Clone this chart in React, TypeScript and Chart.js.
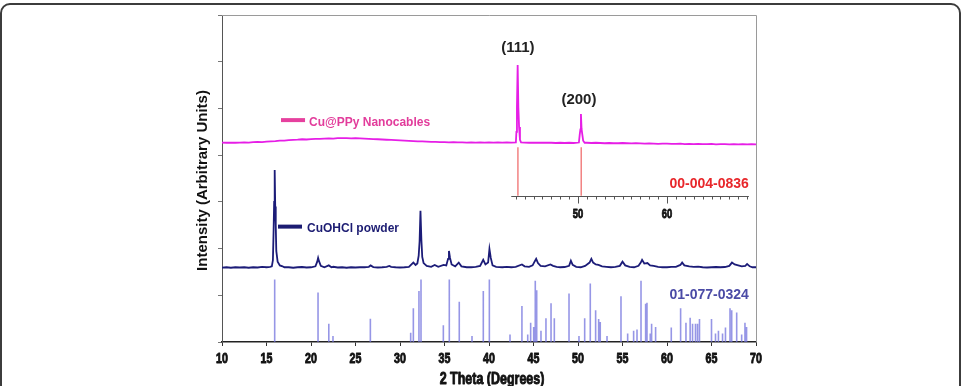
import React, { useEffect, useRef } from "react";
import { Chart, registerables } from "chart.js";
Chart.register(...registerables);

// ---------- DATA ----------
const cuPPyTheta = [
  10, 10.5, 11, 11.5, 12, 12.5, 13, 13.5, 14, 14.5, 15, 15.5, 16, 16.5, 17, 17.5, 18, 18.5, 19, 19.5,
  20, 20.5, 21, 21.5, 22, 22.5, 23, 23.5, 24, 24.5, 25, 25.5, 26, 26.5, 27, 27.5, 28, 28.5, 29, 29.5,
  30, 30.5, 31, 31.5, 32, 32.5, 33, 33.5, 34, 34.5, 35, 35.5, 36, 36.5, 37, 37.5, 38, 38.5, 39, 39.5,
  40, 40.5, 41, 41.5, 42, 42.5, 43.02, 43.08, 43.14, 43.22, 43.3, 43.38, 43.48, 43.6, 44, 44.5, 45, 45.5,
  46, 46.5, 47, 47.5, 48, 48.5, 49, 49.5, 50.1, 50.2, 50.27, 50.33, 50.4, 50.47, 50.58, 50.75, 51, 51.5,
  52, 52.5, 53, 53.5, 54, 54.5, 55, 55.5, 56, 56.5, 57, 57.5, 58, 58.5, 59, 59.5, 60, 60.5, 61, 61.5,
  62, 62.5, 63, 63.5, 64, 64.5, 65, 65.5, 66, 66.5, 67, 67.5, 68, 68.5, 69, 69.5, 70,
];
const cuPPyIntensity = [
  42.7, 42.65, 42.7, 42.65, 42.7, 42.75, 42.7, 42.8, 42.85, 42.8, 42.9, 42.95, 43.0, 43.1, 43.1, 43.2, 43.25, 43.3, 43.4, 43.35,
  43.45, 43.5, 43.5, 43.55, 43.6, 43.55, 43.65, 43.65, 43.65, 43.6, 43.65, 43.6, 43.55, 43.5, 43.45, 43.4, 43.35, 43.3, 43.25, 43.2,
  43.15, 43.1, 43.05, 43.0, 42.95, 42.95, 42.9, 42.85, 42.85, 42.8, 42.8, 42.75, 42.8, 42.75, 42.75, 42.7, 42.75, 42.7, 42.75, 42.7,
  42.75, 42.7, 42.75, 42.7, 42.75, 42.7, 42.75, 45.0, 50.2, 59.3, 50.2, 46.0, 43.3, 42.75, 42.7, 42.65, 42.7, 42.65,
  42.65, 42.7, 42.65, 42.6, 42.65, 42.6, 42.65, 42.6, 42.7, 44.5, 45.5, 48.8, 45.6, 44.6, 43.1, 42.65, 42.65, 42.6,
  42.65, 42.6, 42.55, 42.6, 42.55, 42.55, 42.6, 42.55, 42.5, 42.55, 42.5, 42.45, 42.5, 42.45, 42.4, 42.45, 42.45, 42.4, 42.4, 42.45,
  42.35, 42.4, 42.35, 42.4, 42.35, 42.35, 42.4, 42.3, 42.35, 42.35, 42.3, 42.35, 42.3, 42.35, 42.3, 42.35, 42.3,
];

const cuohclTheta = [
  10, 10.5, 11, 11.5, 12, 12.5, 13, 13.5, 14, 14.5, 15, 15.4, 15.6, 15.72, 15.8, 15.86, 15.92, 15.98, 16.04, 16.1,
  16.25, 16.5, 16.8, 17, 17.5, 18, 18.5, 19, 19.5, 20, 20.5, 20.7, 20.8, 20.9, 21.1, 21.5, 22.0, 22.3, 22.5, 23,
  23.5, 24, 24.5, 25, 25.5, 26, 26.5, 26.7, 27, 27.5, 28, 28.5, 28.8, 29, 29.5, 30, 30.5, 31, 31.5, 31.75,
  31.95, 32.1, 32.2, 32.3, 32.4, 32.5, 32.65, 33, 33.5, 33.9, 34.3, 34.9, 35.2, 35.4, 35.5, 35.62, 35.8, 36.2, 36.6, 36.9,
  37.5, 38, 38.5, 39, 39.35, 39.6, 39.9, 40.05, 40.2, 40.4, 40.8, 41.5, 42, 42.5, 43, 43.7, 44, 44.5, 44.9, 45.15,
  45.3, 45.5, 45.8, 46.3, 46.9, 47.2, 47.6, 48, 48.5, 49, 49.2, 49.4, 49.8, 50.3, 50.8, 51.3, 51.5, 51.7, 52.0, 52.3,
  52.7, 53.2, 53.7, 54.2, 54.7, 55.0, 55.3, 55.8, 56.3, 56.8, 57.05, 57.2, 57.45, 57.8, 58.1, 58.5, 59, 59.5, 60, 60.5,
  61, 61.5, 61.7, 61.95, 62.5, 63, 63.5, 64, 64.5, 65, 65.5, 66, 66.5, 67, 67.3, 67.6, 68.0, 68.4, 68.8, 69.0,
  69.3, 69.6, 70,
];
const cuohclIntensity = [
  15.9, 16.0, 15.9, 16.0, 15.95, 16.0, 15.9, 16.0, 15.95, 16.1, 16.0, 16.1, 16.2, 17.5, 24.0, 30.0, 36.8, 29.0, 25.0, 19.5,
  17.2, 16.4, 16.2, 16.0, 16.0, 15.9, 16.0, 16.05, 15.95, 16.0, 16.2, 17.2, 18.0, 17.3, 16.3, 16.0, 16.4, 16.0, 16.1, 15.95,
  16.0, 15.9, 16.0, 15.95, 16.0, 16.0, 16.1, 16.4, 16.05, 15.95, 16.0, 16.1, 16.3, 16.1, 16.0, 15.95, 16.0, 16.1, 17.0, 16.5,
  16.8, 18.5, 21.5, 28.1, 22.0, 18.2, 16.9, 16.3, 16.1, 16.5, 16.1, 16.5, 16.4, 17.8, 19.5, 18.0, 16.6, 16.2, 17.0, 16.2,
  16.0, 16.0, 16.1, 16.3, 17.6, 16.6, 17.0, 19.9, 18.0, 16.4, 16.1, 16.0, 16.1, 16.0, 16.1, 16.6, 16.2, 16.1, 16.4, 17.3,
  17.8, 16.9, 16.3, 16.2, 16.6, 16.3, 16.1, 16.0, 16.05, 16.3, 17.4, 16.5, 16.1, 16.0, 16.3, 17.0, 17.8, 17.0, 16.6, 16.5,
  16.2, 16.1, 16.0, 16.1, 16.3, 17.2, 16.4, 16.1, 16.0, 16.3, 17.0, 17.6, 16.8, 16.9, 16.4, 16.3, 16.1, 16.0, 16.0, 16.1,
  16.1, 16.5, 17.0, 16.4, 16.2, 16.1, 16.15, 16.0, 15.95, 16.0, 16.05, 16.0, 16.05, 16.3, 17.0, 16.6, 16.4, 16.2, 16.3, 16.7,
  16.2, 16.0, 16.0,
];

// Reference pattern 00-004-0836 (Cu)
const cuRefTheta = [43.25, 50.36];
const cuRefBase = 31.3;
const cuRefTop = 41.7;
const cuInsetRange = [42.5, 69.2];
const cuInsetLabels = [50, 60];

// Reference pattern 01-077-0324 (CuOHCl)
const cuohclRefTheta = [
  15.92, 20.79, 22.0, 22.47, 26.67, 31.2, 31.5, 32.13, 32.36, 34.87, 35.54, 36.66, 38.09, 39.36, 40.04,
  42.36, 43.7, 44.35, 44.68, 45.02, 45.2, 45.36, 45.84, 46.4, 46.97, 47.34, 48.99, 50.11, 50.75, 51.38,
  51.98, 52.32, 52.5, 53.26, 54.83, 55.58, 56.25, 56.63, 57.08, 57.6, 57.75, 58.12, 58.27, 58.72, 60.48,
  61.53, 62.13, 62.6, 62.87, 63.2, 63.43, 63.65, 65.0, 65.45, 65.78, 66.24, 66.57, 67.08, 67.27, 67.83,
  68.39, 68.76, 68.94,
];
const cuohclRefIntensity = [
  13.4, 10.6, 3.9, 1.3, 5.0, 2.0, 7.2, 10.9, 13.4, 3.6, 13.4, 8.6, 1.3, 10.9, 13.4,
  1.6, 7.7, 1.6, 4.1, 3.2, 13.1, 11.1, 2.4, 5.1, 8.3, 5.1, 10.4, 1.3, 5.1, 12.5,
  6.8, 4.9, 4.3, 1.3, 9.8, 1.8, 2.4, 2.7, 13.1, 8.2, 8.4, 1.8, 3.9, 3.2, 3.1,
  7.2, 4.1, 5.2, 3.9, 3.9, 3.9, 4.9, 4.9, 1.8, 2.4, 1.8, 3.1, 7.2, 6.8, 6.3,
  1.6, 4.1, 3.2,
];

const seriesNames = ["Cu@PPy Nanocables", "CuOHCl powder"];
const refNames = ["00-004-0836", "01-077-0324"];
const peakLabels = ["(111)", "(200)"];
const xTitle = "2 Theta (Degrees)";
const yTitle = "Intensity (Arbitrary Units)";

// ---------- helpers ----------
const toPoints = (xs: number[], ys: number[]) => xs.map((x, i) => ({ x, y: ys[i] }));
const toSticks = (xs: number[], base: number | number[], tops: number | number[]) =>
  xs.flatMap((x, i) => [
    { x, y: Array.isArray(base) ? base[i] : base },
    { x, y: Array.isArray(tops) ? tops[i] : tops },
    { x, y: null as any },
  ]);

const BOLD = "'Liberation Sans', Arial, sans-serif";

// heavy condensed text (horizontally squeezed Liberation Sans Bold, thickened)
function narrowText(ctx: CanvasRenderingContext2D, text: string, cx: number, cy: number, size: number, squeeze = 0.8) {
  ctx.save();
  ctx.translate(cx, cy);
  ctx.scale(squeeze, 1);
  ctx.font = `bold ${size}px ${BOLD}`;
  ctx.textAlign = "center";
  ctx.textBaseline = "middle";
  ctx.strokeStyle = ctx.fillStyle as string;
  ctx.lineWidth = 0.9;
  ctx.lineJoin = "round";
  ctx.strokeText(text, 0, 0);
  ctx.fillText(text, 0, 0);
  ctx.restore();
}

const overlay = {
  id: "overlay",
  afterDatasetsDraw(chart: any) {
    const { ctx, chartArea: a, scales } = chart;
    const x = scales.x, y = scales.y;
    const px = (v: number) => x.getPixelForValue(v);
    const py = (v: number) => y.getPixelForValue(v);
    ctx.save();

    // top & right frame of plot area
    ctx.strokeStyle = "#9a9a9a";
    ctx.lineWidth = 1;
    ctx.beginPath();
    ctx.moveTo(a.left, a.top + 0.5);
    ctx.lineTo(a.right + 0.5, a.top + 0.5);
    ctx.lineTo(a.right + 0.5, a.bottom);
    ctx.stroke();

    // x tick labels (from the library's ticks)
    ctx.fillStyle = "#111";
    x.ticks.forEach((t: any) => narrowText(ctx, String(t.value), px(t.value), a.bottom + 17, 14, 0.76));

    // legends
    ctx.lineWidth = 4;
    ctx.strokeStyle = "#e6409e";
    ctx.beginPath();
    ctx.moveTo(px(16.63), py(47.5));
    ctx.lineTo(px(19.33), py(47.5));
    ctx.stroke();
    ctx.strokeStyle = "#1c1c72";
    ctx.beginPath();
    ctx.moveTo(px(16.29), py(24.7));
    ctx.lineTo(px(18.99), py(24.7));
    ctx.stroke();

    ctx.textBaseline = "middle";
    ctx.textAlign = "left";
    ctx.font = `bold 12px ${BOLD}`;
    ctx.fillStyle = "#e23c9b";
    ctx.fillText(seriesNames[0], px(19.78), py(46.9));
    ctx.fillStyle = "#1c1c72";
    ctx.fillText(seriesNames[1], px(19.55), py(24.2));

    // peak labels
    ctx.textAlign = "center";
    ctx.font = `bold 15px ${BOLD}`;
    ctx.fillStyle = "#222";
    ctx.fillText(peakLabels[0], px(43.25), py(62.9));
    ctx.fillText(peakLabels[1], px(50.1), py(51.9));

    // inset axis for 00-004-0836
    const yb = Math.round(py(cuRefBase)) + 0.5;
    ctx.strokeStyle = "#555";
    ctx.lineWidth = 1;
    ctx.beginPath();
    ctx.moveTo(px(cuInsetRange[0]), yb);
    ctx.lineTo(px(cuInsetRange[1]), yb);
    for (let t = Math.ceil(cuInsetRange[0]); t <= Math.floor(cuInsetRange[1]); t++) {
      const xx = Math.round(px(t)) + 0.5;
      ctx.moveTo(xx, yb);
      ctx.lineTo(xx, yb + (t % 10 === 0 ? 7 : 3));
    }
    ctx.stroke();
    ctx.fillStyle = "#111";
    cuInsetLabels.forEach((t) => narrowText(ctx, String(t), px(t), yb + 18, 13, 0.72));

    // reference labels
    ctx.textAlign = "right";
    ctx.textBaseline = "middle";
    ctx.font = `bold 14px ${BOLD}`;
    ctx.fillStyle = "#e8272b";
    ctx.fillText(refNames[0], px(69.2), py(33.8));
    ctx.fillStyle = "#4b4ba6";
    ctx.fillText(refNames[1], px(69.2), py(10.1));

    // axis titles
    ctx.fillStyle = "#111";
    narrowText(ctx, xTitle, (a.left + a.right) / 2 + 3, 380, 16, 0.78);
    ctx.save();
    ctx.translate(203, (a.top + a.bottom) / 2 + 2);
    ctx.rotate(-Math.PI / 2);
    ctx.textAlign = "center";
    ctx.textBaseline = "middle";
    ctx.font = `bold 15px ${BOLD}`;
    ctx.fillText(yTitle, 0, 0);
    ctx.restore();

    ctx.restore();
  },
};

export default function App() {
  const ref = useRef<HTMLCanvasElement | null>(null);

  useEffect(() => {
    if (!ref.current) return;
    const chart = new Chart(ref.current, {
      type: "line",
      data: {
        datasets: [
          {
            label: refNames[1],
            data: toSticks(cuohclRefTheta, 0, cuohclRefIntensity),
            borderColor: "rgba(110,110,220,0.72)",
            borderWidth: 1.6,
            pointRadius: 0,
            spanGaps: false,
          },
          {
            label: refNames[0],
            data: toSticks(cuRefTheta, cuRefBase, cuRefTop),
            borderColor: "#f07070",
            borderWidth: 1.3,
            pointRadius: 0,
            spanGaps: false,
          },
          {
            label: seriesNames[1],
            data: toPoints(cuohclTheta, cuohclIntensity),
            borderColor: "#1c1c78",
            borderWidth: 1.8,
            pointRadius: 0,
            tension: 0,
          },
          {
            label: seriesNames[0],
            data: toPoints(cuPPyTheta, cuPPyIntensity),
            borderColor: "#e61ee6",
            borderWidth: 1.8,
            pointRadius: 0,
            tension: 0,
          },
        ],
      },
      options: {
        responsive: false,
        animation: false,
        devicePixelRatio: 1,
        layout: { padding: { left: 0, right: 205, top: 15, bottom: 0 } },
        plugins: { legend: { display: false }, tooltip: { enabled: false }, title: { display: false } },
        scales: {
          x: {
            type: "linear",
            min: 10,
            max: 70,
            afterFit: (s: any) => {
              s.height = 44;
            },
            ticks: { stepSize: 5, display: false },
            grid: { drawOnChartArea: false, drawTicks: true, tickLength: 4, color: "#333" },
            border: { display: true, color: "#222", width: 1.5 },
          },
          y: {
            type: "linear",
            min: 0,
            max: 70,
            afterFit: (s: any) => {
              s.width = 222;
            },
            ticks: { stepSize: 10, display: false },
            grid: { drawOnChartArea: false, drawTicks: true, tickLength: 4, color: "#777" },
            border: { display: true, color: "#555", width: 1 },
          },
        },
      },
      plugins: [overlay],
    } as any);
    return () => chart.destroy();
  }, []);

  return (
    <div>
      <canvas
        ref={ref}
        width={961}
        height={386}
        style={{ position: "fixed", left: 0, top: 0, width: 961, height: 386 }}
      />
      <div
        style={{
          position: "fixed",
          left: 0,
          top: 3,
          width: 957,
          height: 420,
          border: "2px solid #3c3c3c",
          borderRadius: 10,
          pointerEvents: "none",
        }}
      />
    </div>
  );
}
